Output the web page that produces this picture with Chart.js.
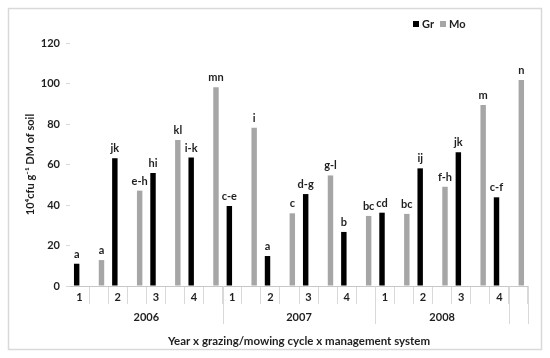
<!DOCTYPE html>
<html>
<head>
<meta charset="utf-8">
<script src="https://cdn.jsdelivr.net/npm/chart.js@4.4.1/dist/chart.umd.min.js"></script>
<style>
  html, body { margin: 0; padding: 0; background: #fff; }
  #caixa { position: relative; width: 550px; height: 358px; }
</style>
</head>
<body>
<div id="caixa"><canvas id="grafico"></canvas></div>
<script>
// ciclo de pastejo/corte (rotulo so na barra Gr de cada ciclo)
const ciclos = ['1', '', '2', '', '3', '', '4', '',
                '1', '', '2', '', '3', '', '4', '',
                '1', '', '2', '', '3', '', '4', ''];
const anos = ['2006', '2007', '2008'];
const categoriasPorAno = [8, 8, 7];

const valoresGr = [11.0, null, 63.1, null, 55.8, null, 63.4, null,
                   39.5, null, 14.8, null, 45.4, null, 26.7, null,
                   36.2, null, 58.1, null, 66.0, null, 43.8, null];
const valoresMo = [null, 12.8, null, 47.1, null, 72.1, null, 98.1,
                   null, 78.2, null, 35.9, null, 54.6, null, 34.6,
                   null, 35.6, null, 49.0, null, 89.4, null, 101.7];
const letras = ['a', 'a', 'jk', 'e-h', 'hi', 'kl', 'i-k', 'mn',
                'c-e', 'i', 'a', 'c', 'd-g', 'g-l', 'b', 'bc',
                'cd', 'bc', 'ij', 'f-h', 'jk', 'm', 'c-f', 'n'];
const ticksY = [0, 20, 40, 60, 80, 100, 120];

const fonte = 'Lato, "DejaVu Sans", sans-serif';
const corTexto = '#1f1f1f';
const corLinha = '#d9d9d9';

// moldura externa + legenda
const moldura = {
    id: 'moldura',
    beforeDraw(chart) {
        const ctx = chart.ctx;
        ctx.save();
        ctx.fillStyle = '#fff';
        ctx.fillRect(0, 0, chart.width, chart.height);
        ctx.strokeStyle = corLinha;
        ctx.lineWidth = 1.5;
        ctx.strokeRect(8.5, 8.5, chart.width - 17, chart.height - 17);
        ctx.restore();
    },
    afterDraw(chart) {
        const ctx = chart.ctx;
        ctx.save();
        ctx.font = 'bold 11px ' + fonte;
        ctx.textBaseline = 'middle';
        let x = chart.chartArea.right - 115;
        const y = 24;
        chart.data.datasets.forEach(ds => {
            ctx.fillStyle = ds.backgroundColor;
            ctx.fillRect(x, y - 3, 6, 6);
            ctx.fillStyle = corTexto;
            ctx.fillText(ds.label, x + 9, y);
            x += 9 + ctx.measureText(ds.label).width + 6;
        });
        ctx.restore();
    }
};

// letras de significancia acima das barras
const rotulosBarras = {
    id: 'rotulosBarras',
    afterDatasetsDraw(chart) {
        const ctx = chart.ctx;
        ctx.save();
        ctx.font = 'bold 11px ' + fonte;
        ctx.fillStyle = corTexto;
        ctx.textAlign = 'center';
        ctx.textBaseline = 'alphabetic';
        chart.data.datasets.forEach((ds, d) => {
            const meta = chart.getDatasetMeta(d);
            meta.data.forEach((barra, i) => {
                if (ds.data[i] === null) return;
                ctx.fillText(letras[i], barra.x, barra.y - 6);
            });
        });
        ctx.restore();
    }
};

// segundo nivel do eixo x (anos)
const eixoAnos = {
    id: 'eixoAnos',
    afterDraw(chart) {
        const ctx = chart.ctx;
        const x = chart.scales.x;
        const larg = x.width / ciclos.length;
        const y0 = x.top;
        ctx.save();
        ctx.strokeStyle = corLinha;
        ctx.lineWidth = 1;
        ctx.font = 'bold 11px ' + fonte;
        ctx.fillStyle = corTexto;
        ctx.textAlign = 'center';
        ctx.textBaseline = 'middle';
        const linha = (px) => {
            const xx = Math.round(px) + 0.5;
            ctx.beginPath();
            ctx.moveTo(xx, y0);
            ctx.lineTo(xx, y0 + 38);
            ctx.stroke();
        };
        let inicio = 0;
        anos.forEach((ano, i) => {
            const fim = inicio + categoriasPorAno[i];
            const xa = x.left + inicio * larg;
            const xb = x.left + fim * larg;
            ctx.fillText(ano, (xa + xb) / 2, y0 + 31);
            linha(xb);
            inicio = fim;
        });
        linha(x.right);
        ctx.restore();
    }
};

const ctx = document.getElementById('grafico').getContext('2d');
new Chart(ctx, {
    type: 'bar',
    data: {
        labels: ciclos,
        datasets: [
            { label: 'Gr', data: valoresGr, backgroundColor: '#000000' },
            { label: 'Mo', data: valoresMo, backgroundColor: '#a6a6a6' }
        ]
    },
    options: {
        responsive: true,
        maintainAspectRatio: false,
        animation: false,
        categoryPercentage: 0.6,
        barPercentage: 0.95,
        layout: { padding: { left: 15, right: 22, top: 43, bottom: 10 } },
        plugins: {
            legend: { display: false },
            tooltip: { enabled: false }
        },
        scales: {
            x: {
                afterFit: (s) => { s.height = 62; },
                border: { display: true, color: '#c8c8c8' },
                grid: {
                    drawOnChartArea: false,
                    drawTicks: true,
                    tickLength: 18,
                    color: (c) => c.index === 0 ? 'rgba(0,0,0,0)' : corLinha
                },
                ticks: {
                    autoSkip: false,
                    maxRotation: 0,
                    padding: -13,
                    color: corTexto,
                    font: { family: fonte, size: 11, weight: 'bold' }
                },
                title: {
                    display: true,
                    text: 'Year x grazing/mowing cycle x management system',
                    color: corTexto,
                    font: { family: fonte, size: 11.5, weight: 'bold' },
                    padding: { top: 8, bottom: 0 }
                }
            },
            y: {
                min: 0,
                max: 120,
                afterFit: (s) => { s.width = 55; },
                afterBuildTicks: (s) => { s.ticks = ticksY.map(v => ({ value: v })); },
                border: { display: false },
                grid: {
                    drawOnChartArea: false,
                    drawTicks: true,
                    tickLength: 4,
                    color: corLinha
                },
                ticks: {
                    padding: 6,
                    color: corTexto,
                    font: { family: fonte, size: 11, weight: 'bold' }
                },
                title: {
                    display: true,
                    text: '10⁴cfu g⁻¹ DM of soil',
                    color: corTexto,
                    font: { family: fonte, size: 11, weight: 'bold' },
                    padding: { top: 9, bottom: 0 }
                }
            }
        }
    },
    plugins: [moldura, rotulosBarras, eixoAnos]
});
</script>
</body>
</html>
